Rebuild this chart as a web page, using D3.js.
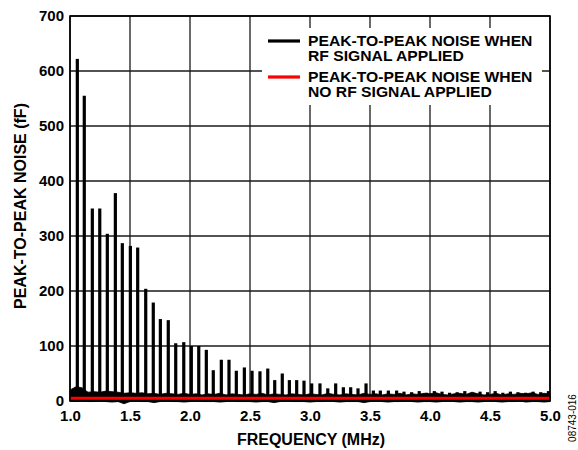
<!DOCTYPE html>
<html><head><meta charset="utf-8">
<script src="https://cdn.jsdelivr.net/npm/d3@7"></script>
<style>
body{margin:0;background:#fff}
svg text{font-family:"Liberation Sans",Arial,Helvetica,sans-serif;font-weight:bold;fill:#000}
</style>
</head><body>
<svg id="chart" width="578" height="450"></svg>
<script>
// ---------- data ----------
const xTicks = [1.0, 1.5, 2.0, 2.5, 3.0, 3.5, 4.0, 4.5, 5.0];
const yTicks = [0, 100, 200, 300, 400, 500, 600, 700];

// spikes of the "RF signal applied" trace (MHz, fF)
const spikeFreq = [1.061, 1.119, 1.186, 1.248, 1.311, 1.378, 1.436, 1.503, 1.564, 1.631,
  1.694, 1.753, 1.819, 1.881, 1.948, 2.011, 2.073, 2.136, 2.194, 2.261,
  2.325, 2.386, 2.453, 2.517, 2.583, 2.648, 2.706, 2.769, 2.828, 2.889,
  2.950, 3.014, 3.083, 3.148, 3.214, 3.278, 3.339, 3.400, 3.467, 3.528,
  3.586, 3.653, 3.722, 3.783, 3.847, 3.910, 3.972, 4.036, 4.100, 4.163,
  4.226, 4.290, 4.353, 4.417, 4.480, 4.543, 4.607, 4.670, 4.733, 4.797,
  4.860, 4.923, 4.987];
const spikeVal = [622, 555, 350, 350, 304, 378, 287, 282, 279, 204,
  179, 149, 147, 105, 107, 100, 100, 93, 56, 75,
  75, 55, 61, 55, 54, 59, 38, 50, 38, 38,
  37, 32, 32, 23, 32, 25, 25, 23, 32, 19,
  19, 19, 19, 17, 16, 18, 15, 18, 17, 15,
  16, 18, 15, 17, 16, 18, 15, 17, 16, 15,
  17, 16, 18];

// noise floor band of the same trace
const noiseFreq = [1.00,1.05,1.10,1.15,1.20,1.25,1.30,1.35,1.40,1.45,1.50,1.55,1.60,1.65,1.70,1.75,1.80,1.85,1.90,1.95,
  2.00,2.05,2.10,2.15,2.20,2.25,2.30,2.35,2.40,2.45,2.50,2.55,2.60,2.65,2.70,2.75,2.80,2.85,2.90,2.95,
  3.00,3.05,3.10,3.15,3.20,3.25,3.30,3.35,3.40,3.45,3.50,3.55,3.60,3.65,3.70,3.75,3.80,3.85,3.90,3.95,
  4.00,4.05,4.10,4.15,4.20,4.25,4.30,4.35,4.40,4.45,4.50,4.55,4.60,4.65,4.70,4.75,4.80,4.85,4.90,4.95,5.00];
const noiseTop = [20,26,24,16,17,16,18,17,16,14,15,14,15,13,14,12,14,13,12,14,
  12,13,11,13,12,14,11,13,12,11,13,12,14,11,13,12,11,13,12,11,
  13,12,11,14,12,11,13,12,11,14,12,13,11,13,12,14,11,13,12,14,
  13,15,12,11,13,14,12,16,13,11,12,14,11,13,12,14,13,15,12,14,13];
const noiseBottom = [0,-1,0,-1,-1,0,-1,-2,-1,-5,-1,0,-1,-1,-3,-1,0,-1,-1,-2,
  -1,0,-1,-1,-1,-2,-1,0,-1,-1,-1,-2,-1,-1,-3,-1,0,-1,-1,-1,
  -2,-1,-1,0,-1,-2,-1,-1,-1,-3,-1,0,-1,-2,-1,-1,0,-1,-2,-1,
  -1,-2,-1,0,-1,-2,-1,-1,-2,-1,0,-1,-2,-1,-1,0,-2,-1,-1,-2,-1];

// "no RF signal applied" trace
const refFreq = [1.0, 1.5, 2.0, 2.5, 3.0, 3.5, 4.0, 4.5, 5.0];
const refVal  = [5, 5, 5, 5, 5, 5, 5, 5, 5];

const legendLines = [
  ["PEAK-TO-PEAK NOISE WHEN", "RF SIGNAL APPLIED"],
  ["PEAK-TO-PEAK NOISE WHEN", "NO RF SIGNAL APPLIED"]
];
const legendColors = ["#000000", "#ff0000"];

// ---------- layout ----------
const L = 70, R = 550, T = 16, B = 401;
const svg = d3.select("#chart");
const x = d3.scaleLinear().domain([1, 5]).range([L, R]);
const y = d3.scaleLinear().domain([0, 700]).range([B, T]);

// grid
const grid = svg.append("g");
grid.selectAll("line.v").data(xTicks).join("line")
  .attr("x1", d => x(d)).attr("x2", d => x(d)).attr("y1", T).attr("y2", B)
  .attr("stroke", "#1a1a1a").attr("stroke-width", 1.3);
grid.selectAll("line.h").data(yTicks).join("line")
  .attr("x1", L).attr("x2", R).attr("y1", d => y(d)).attr("y2", d => y(d))
  .attr("stroke", "#1a1a1a").attr("stroke-width", 1.3);

// legend background
svg.append("rect").attr("x", 262).attr("y", 28).attr("width", 280).attr("height", 77).attr("fill", "#fff");

// noise band
const area = d3.area().x((d, i) => x(noiseFreq[i])).y0((d, i) => y(noiseBottom[i])).y1(d => y(d));
svg.append("path").datum(noiseTop).attr("d", area).attr("fill", "#000")
  .attr("stroke", "#000").attr("stroke-width", 0.8);

// spikes
svg.append("g").selectAll("rect").data(spikeVal).join("rect")
  .attr("x", (d, i) => x(spikeFreq[i]) - 1.6).attr("width", 3.2)
  .attr("y", d => y(d)).attr("height", d => y(0) - y(d))
  .attr("fill", "#000");

// reference trace
const line = d3.line().x((d, i) => x(refFreq[i])).y(d => y(d));
svg.append("path").datum(refVal).attr("d", line).attr("fill", "none")
  .attr("stroke", "#ff0000").attr("stroke-width", 3);

// frame
svg.append("rect").attr("x", L).attr("y", T).attr("width", R - L).attr("height", B - T)
  .attr("fill", "none").attr("stroke", "#000").attr("stroke-width", 1.6);

// axes labels
const xAxis = svg.append("g").attr("transform", `translate(0,${B})`)
  .call(d3.axisBottom(x).tickValues(xTicks).tickSize(0).tickPadding(9).tickFormat(d3.format(".1f")));
xAxis.select(".domain").remove();
xAxis.selectAll("text").attr("font-size", 15).attr("font-family", null).style("fill", "#000");

const yAxis = svg.append("g").attr("transform", `translate(${L},0)`)
  .call(d3.axisLeft(y).tickValues(yTicks).tickSize(0).tickPadding(6).tickFormat(d3.format("d")));
yAxis.select(".domain").remove();
yAxis.selectAll("text").attr("font-size", 15).attr("font-family", null).style("fill", "#000");

svg.append("text").attr("x", (L + R) / 2 + 1).attr("y", 445).attr("text-anchor", "middle")
  .attr("font-size", 16).text("FREQUENCY (MHz)");
svg.append("text").attr("transform", `translate(26,206) rotate(-90)`)
  .attr("text-anchor", "middle").attr("font-size", 16).text("PEAK-TO-PEAK NOISE (fF)");
svg.append("text").attr("transform", `translate(576,418) rotate(-90)`)
  .attr("text-anchor", "middle").attr("font-size", 10).style("font-weight", "normal").text("08743-016");

// legend
const lg = svg.append("g");
legendLines.forEach((lines, i) => {
  const yy = 41 + i * 36;
  lg.append("line").attr("x1", 268).attr("x2", 300).attr("y1", yy).attr("y2", yy)
    .attr("stroke", legendColors[i]).attr("stroke-width", 3.2);
  lines.forEach((s, j) => {
    lg.append("text")
      .attr("transform", `translate(308,${yy + 4.5 + j * 15.7}) scale(1.12,1)`)
      .attr("font-size", 14).text(s);
  });
});
</script>
</body></html>
